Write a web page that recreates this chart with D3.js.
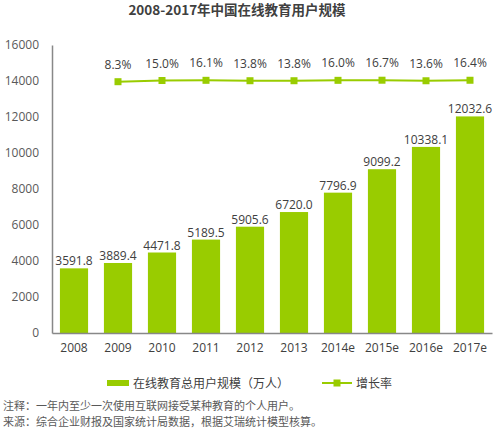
<!DOCTYPE html>
<html><head><meta charset="utf-8">
<script src="https://cdn.jsdelivr.net/npm/d3@7"></script>
<style>
body{margin:0;background:#fff;}
svg{display:block;}
</style></head>
<body>
<script>
const categories = ["2008","2009","2010","2011","2012","2013","2014e","2015e","2016e","2017e"];
const users = [3591.8,3889.4,4471.8,5189.5,5905.6,6720.0,7796.9,9099.2,10338.1,12032.6];
const growthYears = ["2009","2010","2011","2012","2013","2014e","2015e","2016e","2017e"];
const growth = [8.3,15.0,16.1,13.8,13.8,16.0,16.7,13.6,16.4];
const yTicks = [0,2000,4000,6000,8000,10000,12000,14000,16000];
const titleText = "2008-2017年中国在线教育用户规模";
const legendBar = "在线教育总用户规模（万人）";
const legendLine = "增长率";
const notes = ["注释：一年内至少一次使用互联网接受某种教育的个人用户。",
               "来源：综合企业财报及国家统计局数据，根据艾瑞统计模型核算。"];

const W = 499, H = 432;
const mLeft = 52, mRight = 492, mTop = 45, mBottom = 333;
const green = "#99cc00";
const numFont = "'Open Sans', 'DejaVu Sans', sans-serif";
const cjkFont = "'Noto Sans CJK SC', sans-serif";

const svg = d3.select("body").append("svg").attr("width", W).attr("height", H);

const x = d3.scaleBand().domain(categories).range([mLeft, mRight]).paddingInner(0.36).paddingOuter(0.18);
const y = d3.scaleLinear().domain([0, 16000]).range([mBottom, mTop]);
const y2 = d3.scaleLinear().domain([-1400, 214]).range([mBottom, mTop]);

// title
svg.append("text").attr("x", 237).attr("y", 15).attr("text-anchor", "middle")
  .attr("font-family", cjkFont).attr("font-weight", "bold").attr("font-size", 13.5)
  .attr("fill", "#404040").text(titleText);

// bars
svg.append("g").selectAll("rect").data(users).join("rect")
  .attr("x", (d, i) => x(categories[i]))
  .attr("y", d => y(d))
  .attr("width", x.bandwidth())
  .attr("height", d => y(0) - y(d))
  .attr("fill", green);

// bar labels
svg.append("g").selectAll("text").data(users).join("text")
  .attr("x", (d, i) => x(categories[i]) + x.bandwidth() / 2)
  .attr("y", d => y(d) - 3)
  .attr("text-anchor", "middle")
  .attr("font-family", numFont).attr("font-size", 12).attr("fill", "#404040")
  .text(d => d.toFixed(1));

// y axis
const yAxis = d3.axisLeft(y).tickValues(yTicks).tickSize(0).tickPadding(13).tickFormat(d3.format("d"));
const gy = svg.append("g").attr("transform", `translate(${mLeft},0)`).call(yAxis);
gy.select(".domain").attr("stroke", "#888").attr("stroke-width", 1.5);
gy.selectAll("text").attr("font-family", numFont).attr("font-size", 12).attr("fill", "#595959");

// x axis
const xAxis = d3.axisBottom(x).tickSize(0).tickPadding(10);
const gx = svg.append("g").attr("transform", `translate(0,${mBottom})`).call(xAxis);
gx.select(".domain").attr("stroke", "#888").attr("stroke-width", 1.5);
gx.selectAll("text").attr("font-family", numFont).attr("font-size", 12).attr("fill", "#404040");

// growth line
const cx = d => x(d) + x.bandwidth() / 2;
const line = d3.line().x((d, i) => cx(growthYears[i])).y(d => y2(d));
svg.append("path").datum(growth).attr("d", line)
  .attr("fill", "none").attr("stroke", green).attr("stroke-width", 2);
svg.append("g").selectAll("rect").data(growth).join("rect")
  .attr("x", (d, i) => cx(growthYears[i]) - 3.5)
  .attr("y", d => y2(d) - 3.5)
  .attr("width", 7).attr("height", 7).attr("fill", green);
svg.append("g").selectAll("text").data(growth).join("text")
  .attr("x", (d, i) => cx(growthYears[i]))
  .attr("y", d => y2(d) - 13)
  .attr("text-anchor", "middle")
  .attr("font-family", numFont).attr("font-size", 12).attr("fill", "#404040")
  .text(d => d.toFixed(1) + "%");

// legend
const lg = svg.append("g");
lg.append("rect").attr("x", 107).attr("y", 380).attr("width", 22).attr("height", 6).attr("fill", green);
lg.append("text").attr("x", 133).attr("y", 387.5).attr("font-family", cjkFont).attr("font-size", 12)
  .attr("fill", "#404040").text(legendBar);
lg.append("line").attr("x1", 322).attr("x2", 352).attr("y1", 383).attr("y2", 383).attr("stroke", green).attr("stroke-width", 2);
lg.append("rect").attr("x", 333.5).attr("y", 379.5).attr("width", 7).attr("height", 7).attr("fill", green);
lg.append("text").attr("x", 356).attr("y", 387.5).attr("font-family", cjkFont).attr("font-size", 12)
  .attr("fill", "#404040").text(legendLine);

// notes
svg.append("g").selectAll("text").data(notes).join("text")
  .attr("x", 3).attr("y", (d, i) => 410 + i * 16)
  .attr("font-family", cjkFont).attr("font-size", 11).attr("fill", "#595959")
  .text(d => d);
</script>
</body></html>
